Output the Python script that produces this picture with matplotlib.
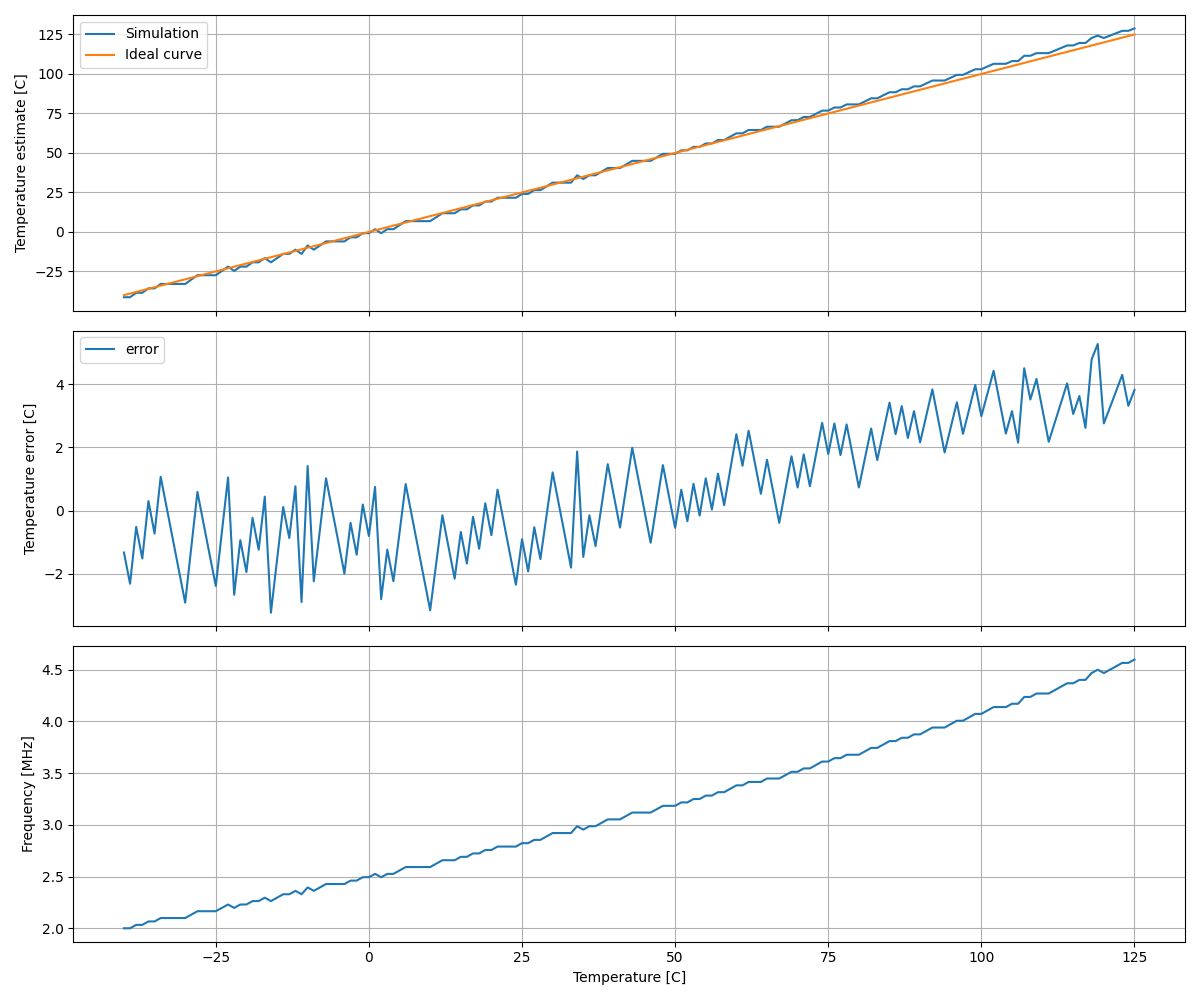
#Temperature sensor simulation: estimate, error and oscillator frequency

import matplotlib
matplotlib.use("Agg")
import matplotlib.pyplot as plt

TEMPERATURE = list(range(-40, 126))

# estimate - true temperature
ERROR = [
    -1.33, -2.32, -0.52, -1.52, 0.30, -0.73, 1.07, 0.07, -0.93, -1.93,
    -2.92, -1.17, 0.59, -0.41, -1.41, -2.39, -0.67, 1.05, -2.67, -0.94,
    -1.95, -0.23, -1.24, 0.44, -3.24, -1.57, 0.11, -0.87, 0.77, -2.90,
    1.41, -2.24, -0.61, 1.02, 0.02, -0.98, -2.00, -0.39, -1.40, 0.19,
    -0.81, 0.75, -2.81, -1.24, -2.24, -0.70, 0.84, -0.16, -1.16, -2.16,
    -3.16, -1.65, -0.15, -1.15, -2.16, -0.68, -1.68, -0.20, -1.21, 0.23,
    -0.78, 0.66, -0.34, -1.34, -2.35, -0.91, -1.93, -0.53, -1.54, -0.17,
    1.21, 0.21, -0.79, -1.81, 1.87, -1.47, -0.15, -1.13, 0.17, 1.47,
    0.46, -0.54, 0.72, 1.99, 0.99, -0.01, -1.02, 0.21, 1.44, 0.44,
    -0.55, 0.66, -0.34, 0.85, -0.16, 1.02, 0.03, 1.17, 0.17, 1.30,
    2.42, 1.42, 2.53, 1.53, 0.53, 1.61, 0.61, -0.39, 0.67, 1.72,
    0.73, 1.78, 0.77, 1.78, 2.78, 1.79, 2.76, 1.76, 2.73, 1.73,
    0.73, 1.67, 2.60, 1.60, 2.51, 3.42, 2.42, 3.31, 2.30, 3.15,
    2.16, 3.00, 3.84, 2.84, 1.84, 2.63, 3.43, 2.43, 3.21, 3.98,
    2.99, 3.71, 4.43, 3.44, 2.44, 3.15, 2.15, 4.51, 3.52, 4.17,
    3.17, 2.18, 2.80, 3.42, 4.03, 3.06, 3.63, 2.62, 4.79, 5.28,
    2.76, 3.27, 3.79, 4.30, 3.32, 3.82,
]

FREQUENCY = [
    2.000, 2.000, 2.033, 2.033, 2.066, 2.066, 2.099, 2.099, 2.099, 2.099,
    2.099, 2.132, 2.165, 2.165, 2.165, 2.165, 2.197, 2.230, 2.197, 2.230,
    2.230, 2.263, 2.263, 2.296, 2.263, 2.296, 2.329, 2.329, 2.362, 2.329,
    2.395, 2.362, 2.395, 2.428, 2.428, 2.428, 2.428, 2.461, 2.461, 2.494,
    2.494, 2.526, 2.494, 2.526, 2.526, 2.559, 2.592, 2.592, 2.592, 2.592,
    2.592, 2.625, 2.658, 2.658, 2.658, 2.691, 2.691, 2.724, 2.724, 2.757,
    2.757, 2.790, 2.790, 2.790, 2.790, 2.823, 2.823, 2.855, 2.855, 2.888,
    2.921, 2.921, 2.921, 2.921, 2.987, 2.954, 2.987, 2.987, 3.020, 3.053,
    3.053, 3.053, 3.086, 3.119, 3.119, 3.119, 3.119, 3.152, 3.184, 3.184,
    3.184, 3.217, 3.217, 3.250, 3.250, 3.283, 3.283, 3.316, 3.316, 3.349,
    3.382, 3.382, 3.415, 3.415, 3.415, 3.448, 3.448, 3.448, 3.481, 3.513,
    3.513, 3.546, 3.546, 3.579, 3.612, 3.612, 3.645, 3.645, 3.678, 3.678,
    3.678, 3.711, 3.744, 3.744, 3.777, 3.810, 3.810, 3.842, 3.842, 3.875,
    3.875, 3.908, 3.941, 3.941, 3.941, 3.974, 4.007, 4.007, 4.040, 4.073,
    4.073, 4.106, 4.139, 4.139, 4.139, 4.171, 4.171, 4.237, 4.237, 4.270,
    4.270, 4.270, 4.303, 4.336, 4.369, 4.369, 4.402, 4.402, 4.468, 4.500,
    4.468, 4.500, 4.533, 4.566, 4.566, 4.599,
]


def plot_simulation(temperature, error, frequency):
    estimate = [t + e for t, e in zip(temperature, error)]

    fig, (ax1, ax2, ax3) = plt.subplots(3, 1, figsize=(12, 10), sharex=True)

    ax1.plot(temperature, estimate, label="Simulation")
    ax1.plot(temperature, temperature, label="Ideal curve")
    ax1.set_ylabel("Temperature estimate [C]")
    ax1.legend(loc="upper left")
    ax1.grid(True)

    ax2.plot(temperature, error, label="error")
    ax2.set_ylabel("Temperature error [C]")
    ax2.legend(loc="upper left")
    ax2.grid(True)

    ax3.plot(temperature, frequency)
    ax3.set_ylabel("Frequency [MHz]")
    ax3.set_xlabel("Temperature [C]")
    ax3.grid(True)

    plt.tight_layout()
    plt.savefig("out.png", dpi=100)


def execute():
    plot_simulation(TEMPERATURE, ERROR, FREQUENCY)


if __name__ == "__main__":
    execute()
